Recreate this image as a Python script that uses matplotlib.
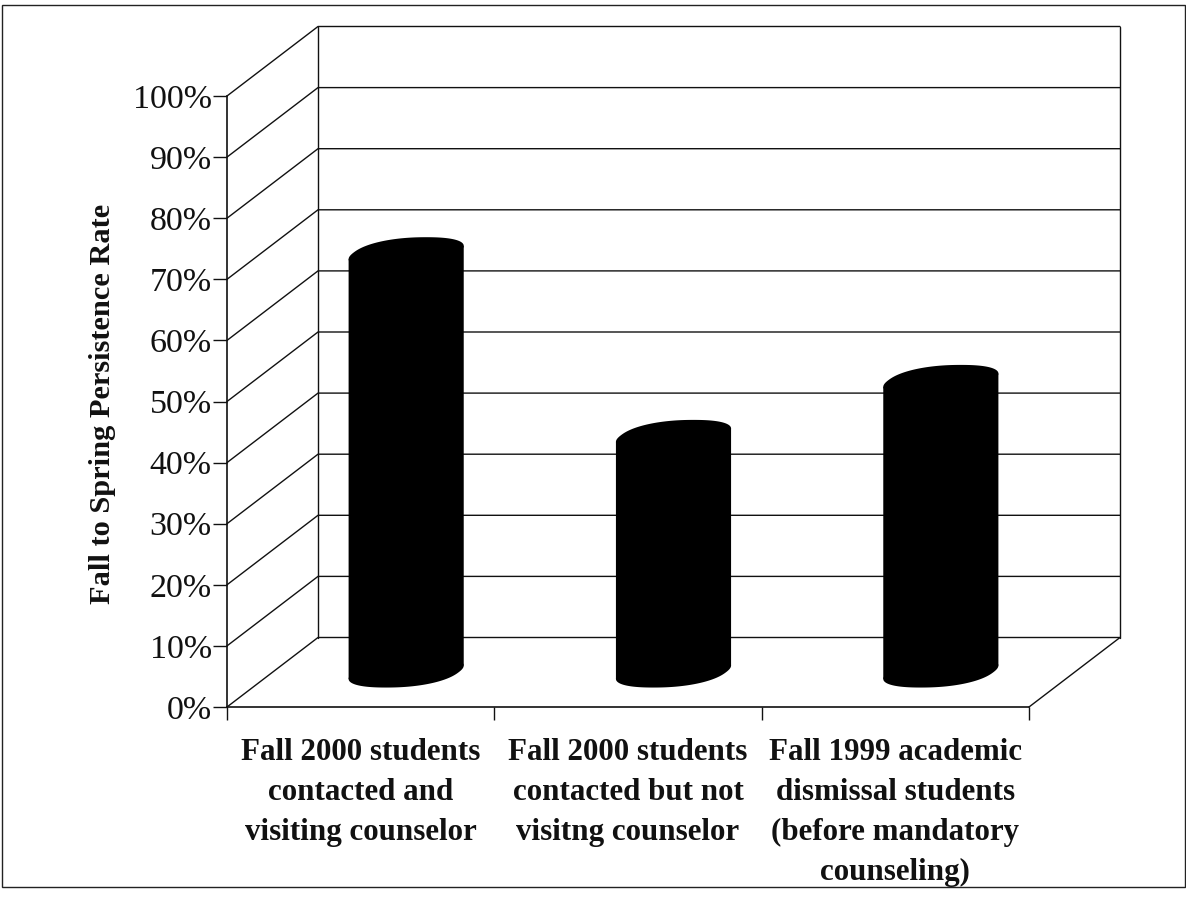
import numpy as np
import matplotlib
matplotlib.use("Agg")
import matplotlib.pyplot as plt
from matplotlib.patches import Rectangle
from matplotlib.ticker import FixedLocator, FixedFormatter

categories = [
    "Fall 2000 students\ncontacted and\nvisiting counselor",
    "Fall 2000 students\ncontacted but not\nvisitng counselor",
    "Fall 1999 academic\ndismissal students\n(before mandatory\ncounseling)",
]
persistence = [68.7, 38.8, 47.8]
y_ticks = list(range(0, 101, 10))
y_labels = [f"{v}%" for v in y_ticks]

W, H = 1186, 917
LEFT, RIGHT, BASE, TOP = 227, 1029, 707, 96  # plot front plane, in pixels
SERIF = "Liberation Serif"

fig = plt.figure(figsize=(W / 100, H / 100), dpi=100, facecolor="white")
ax = fig.add_axes([LEFT / W, 1 - BASE / H, (RIGHT - LEFT) / W, (BASE - TOP) / H])
n = len(categories)
ax.set_xlim(0, n)
ax.set_ylim(0, 100)
ax.patch.set_alpha(0)

# Oblique depth vector of the 3-D box, expressed in data units
DX = 91 / ((RIGHT - LEFT) / n)
DY = 69.5 / ((BASE - TOP) / 100)


def project(x, y, depth):
    return x + depth * DX, y + depth * DY


LINE = dict(color="#111111", lw=1.0, clip_on=False, solid_capstyle="round", zorder=1)

# Side wall and back wall gridlines
for v in y_ticks:
    x0, y0 = project(0, v, 0)
    x1, y1 = project(0, v, 1)
    x2, y2 = project(n, v, 1)
    ax.plot([x0, x1, x2], [y0, y1, y2], **LINE)

# Back wall verticals and the floor edge
for x in (0, n):
    xb, yb0 = project(x, 0, 1)
    _, yb1 = project(x, 100, 1)
    ax.plot([xb, xb], [yb0, yb1], **LINE)
xa, ya = project(n, 0, 0)
xb, yb = project(n, 0, 1)
ax.plot([xa, xb], [ya, yb], **LINE)

# Cylinders: a slightly squared footprint on the floor, sheared by the depth vector
RADIUS_X = 52.5 / ((RIGHT - LEFT) / n)
RADIUS_D = 0.22
ROUNDNESS = 0.88
t = np.linspace(0, 2 * np.pi, 361)
ring_c = np.sign(np.cos(t)) * np.abs(np.cos(t)) ** ROUNDNESS
ring_s = np.sign(np.sin(t)) * np.abs(np.sin(t)) ** ROUNDNESS
for i, value in enumerate(persistence):
    cx = i + 0.5 + RADIUS_X * ring_c
    depth = 0.5 + RADIUS_D * ring_s
    xs, ys_low = project(cx, 0, depth)
    _, ys_top = project(cx, value, depth)
    lo, hi = np.argmin(xs), np.argmax(xs)
    ax.fill(xs, ys_low, color="black", lw=0, clip_on=False, zorder=3)
    ax.fill(xs, ys_top, color="black", lw=0, clip_on=False, zorder=3)
    ax.fill([xs[lo], xs[hi], xs[hi], xs[lo]],
            [ys_low[lo], ys_low[hi], ys_top[hi], ys_top[lo]],
            color="black", lw=0, clip_on=False, zorder=3)

# Axes, ticks and labels
for side in ("top", "right"):
    ax.spines[side].set_visible(False)
for side in ("left", "bottom"):
    ax.spines[side].set_linewidth(1.2)
    ax.spines[side].set_color("#111111")

ax.set_yticks(y_ticks)
ax.set_yticklabels(y_labels, fontsize=24.5, family=SERIF, color="#111111")
ax.tick_params(axis="y", length=10, width=1.0, pad=1, color="#111111")

ax.xaxis.set_major_locator(FixedLocator(list(range(n + 1))))
ax.xaxis.set_major_formatter(FixedFormatter([""] * (n + 1)))
ax.xaxis.set_minor_locator(FixedLocator([i + 0.5 for i in range(n)]))
ax.xaxis.set_minor_formatter(FixedFormatter(categories))
ax.tick_params(axis="x", which="major", length=9, width=1.0, color="#111111")
ax.tick_params(axis="x", which="minor", length=0, pad=22)
for lab in ax.get_xticklabels(minor=True):
    lab.set(fontsize=22.3, family=SERIF, fontweight="bold", color="#111111",
            linespacing=1.5, ha="center", va="top")

ax.set_ylabel("Fall to Spring Persistence Rate", fontsize=21.9, family=SERIF,
              fontweight="bold", color="#111111")
ax.yaxis.set_label_coords((116 - LEFT) / (RIGHT - LEFT), (BASE - 404) / (BASE - TOP))

# Frame around the whole figure
fig.add_artist(Rectangle((1.5 / W, 1 - 887 / H), (W - 3) / W, (887 - 5) / H,
                         transform=fig.transFigure, fill=False,
                         ec="#222222", lw=1.0))

fig.savefig("out.png", dpi=100, facecolor="white")
